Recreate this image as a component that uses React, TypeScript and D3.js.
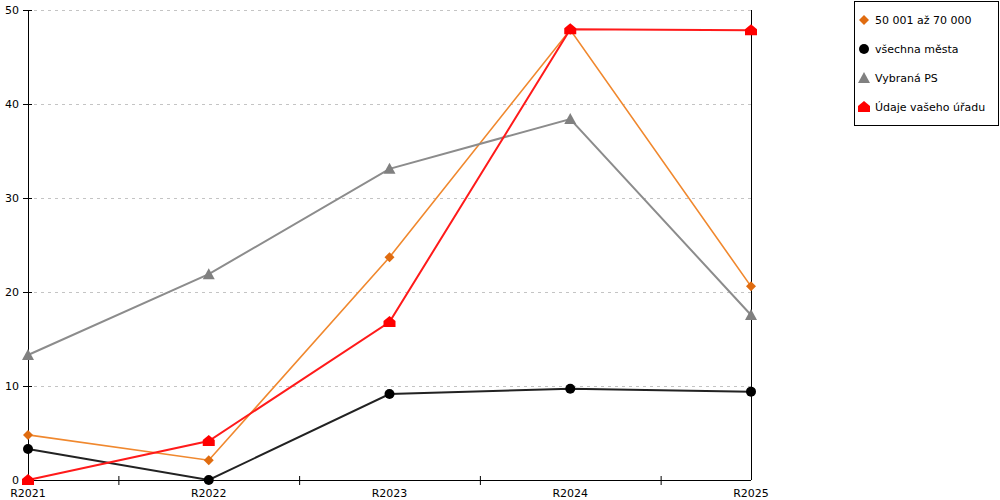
import * as d3 from 'd3';

const categories = ['R2021', 'R2022', 'R2023', 'R2024', 'R2025'];
const yTicks = [0, 10, 20, 30, 40, 50];

const orangeValues = [4.8, 2.1, 23.7, 47.9, 20.6];
const blackValues = [3.3, 0, 9.15, 9.7, 9.4];
const grayValues = [13.3, 21.9, 33.1, 38.4, 17.55];
const redValues = [0, 4.15, 16.8, 47.95, 47.85];

const seriesNames = ['50 001 až 70 000', 'všechna města', 'Vybraná PS', 'Údaje vašeho úřadu'];

const series = [
  { name: seriesNames[0], values: orangeValues, line: '#f0882e', fill: '#e06c10', width: 1.6, shape: 'diamond' },
  { name: seriesNames[1], values: blackValues, line: '#222', fill: '#000', width: 2, shape: 'circle' },
  { name: seriesNames[2], values: grayValues, line: '#8c8c8c', fill: '#808080', width: 2, shape: 'triangle' },
  { name: seriesNames[3], values: redValues, line: '#ff1a1a', fill: '#ff0000', width: 2, shape: 'house' },
];

function Marker({ shape, x, y, fill }: { shape: string; x: number; y: number; fill: string }) {
  if (shape === 'circle') return <circle cx={x} cy={y} r={5} fill={fill} />;
  if (shape === 'diamond')
    return <path d={`M${x},${y - 5}L${x + 5},${y}L${x},${y + 5}L${x - 5},${y}Z`} fill={fill} />;
  if (shape === 'triangle')
    return <path d={`M${x},${y - 6}L${x + 6},${y + 5}L${x - 6},${y + 5}Z`} fill={fill} />;
  return (
    <path
      d={`M${x},${y - 6}L${x + 6},${y - 1}L${x + 6},${y + 5}L${x - 6},${y + 5}L${x - 6},${y - 1}Z`}
      fill={fill}
    />
  );
}

export default function App() {
  const width = 1000;
  const height = 500;
  const left = 28;
  const right = 751;
  const top = 10;
  const bottom = 480;

  const x = d3.scalePoint<string>().domain(categories).range([left, right]);
  const y = d3.scaleLinear().domain([0, 50]).range([bottom, top]);
  const step = x.step();

  const line = d3
    .line<number>()
    .x((_, i) => x(categories[i])!)
    .y(d => y(d));

  const font = 'Verdana, "DejaVu Sans", sans-serif';

  return (
    <svg
      width={width}
      height={height}
      style={{ position: 'absolute', left: 0, top: 0, background: '#fff' }}
      fontFamily={font}
    >
      {/* grid */}
      {yTicks.filter(t => t > 0).map(t => (
        <line
          key={t}
          x1={left + 6}
          x2={right}
          y1={y(t) + 0.5}
          y2={y(t) + 0.5}
          stroke="#c4c4c4"
          strokeDasharray="3,4"
        />
      ))}

      {/* y axis */}
      <line x1={left + 0.5} x2={left + 0.5} y1={top} y2={bottom} stroke="#000" />
      <line x1={right + 0.5} x2={right + 0.5} y1={top} y2={bottom} stroke="#000" />
      {yTicks.map(t => (
        <g key={t}>
          <line x1={left - 5} x2={left + 4} y1={y(t) + 0.5} y2={y(t) + 0.5} stroke="#000" />
          <text x={left - 9} y={y(t) + 4} textAnchor="end" fontSize={11} fill="#000">
            {t}
          </text>
        </g>
      ))}

      {/* x axis */}
      <line x1={left} x2={right} y1={bottom + 0.5} y2={bottom + 0.5} stroke="#000" />
      {categories.slice(0, -1).map(c => (
        <line
          key={c}
          x1={x(c)! + step / 2 + 0.5}
          x2={x(c)! + step / 2 + 0.5}
          y1={bottom - 4}
          y2={bottom + 5}
          stroke="#000"
        />
      ))}
      {categories.map(c => (
        <text key={c} x={x(c)} y={bottom + 17} textAnchor="middle" fontSize={11} fill="#000">
          {c}
        </text>
      ))}

      {/* lines */}
      {series.map(s => (
        <path key={s.name} d={line(s.values)!} fill="none" stroke={s.line} strokeWidth={s.width} />
      ))}
      {series.map(s =>
        s.values.map((v, i) => (
          <Marker key={s.name + i} shape={s.shape} x={x(categories[i])!} y={y(v)} fill={s.fill} />
        ))
      )}

      {/* legend */}
      <rect x={854.5} y={1.5} width={144} height={124} fill="#fff" stroke="#000" />
      {series.map((s, i) => (
        <g key={s.name}>
          <Marker shape={s.shape} x={864} y={20 + i * 29} fill={s.fill} />
          <text x={875} y={24 + i * 29} fontSize={11} fill="#000">
            {s.name}
          </text>
        </g>
      ))}
    </svg>
  );
}
